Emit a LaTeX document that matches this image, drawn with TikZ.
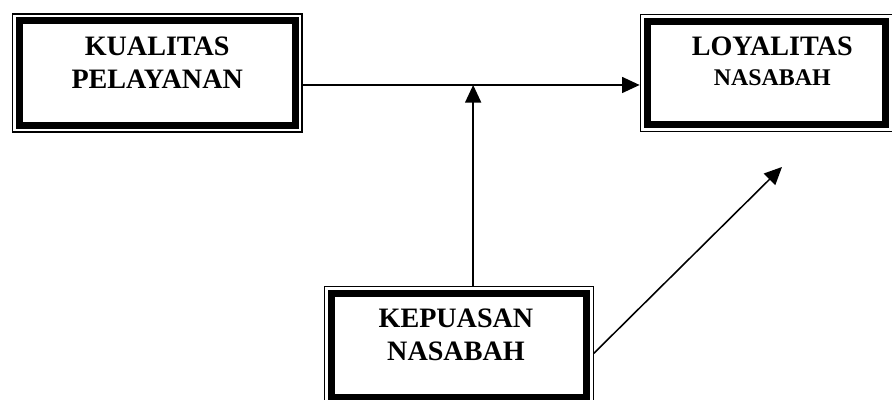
\documentclass[tikz,border=0pt]{standalone}
\usepackage{fontspec}
\setmainfont{Liberation Serif}
\usepackage{tikz}
\usetikzlibrary{
    positioning,
    calc,
    arrows.meta
}
\tikzset{
  frame/.style = {
      draw,
      line width=0.9pt,
      rectangle,
      inner sep=0pt,
      minimum height=2.95cm
  },
  caption/.style = {
      font=\fontsize{20}{23}\selectfont\bfseries,
      align=center,
      inner sep=0pt
  },
  link/.style = {
      line width=1.1pt,
      -{Triangle[length=0.44cm, width=0.4cm]}
  }
}
\begin{document}
\begin{tikzpicture}
    \useasboundingbox (0,0) rectangle (22.3,10);
    % Nodes
    \node[frame, minimum width=7.24cm] (kp) at (3.93,8.175) {};
    \node[frame, minimum width=6.3cm, minimum height=2.925cm, right=8.425cm of kp] (ln) {};
    \node[frame, minimum width=6.725cm, below right=3.825cm and 0.525cm of kp] (kn) {};
    \foreach \b in {kp,ln,kn}
      \draw[line width=5pt] ($(\b.north west)+(0.19,-0.19)$) rectangle ($(\b.south east)+(-0.19,0.19)$);
    % Texts
    \node[caption] (kp-text) at ([yshift=0.26cm]kp.center) {KUALITAS\\PELAYANAN};
    \node[caption] (ln-text) at ([xshift=0.15cm, yshift=0.29cm]ln.center)
      {LOYALITAS\\[-2pt]{\fontsize{17}{20}\selectfont NASABAH}};
    \node[caption] (kn-text) at ([xshift=-0.07cm, yshift=0.26cm]kn.center) {KEPUASAN\\NASABAH};
    % Edges
    \coordinate (hl) at ([yshift=-0.3cm]kp.east);
    \coordinate (vb) at ([xshift=0.36cm]kn.north);
    \coordinate (dg) at (19.55,5.825);
    \draw[link] (hl) -- (hl -| ln.west);
    \draw[link] (vb) -- (vb |- hl);
    \draw[link] ([yshift=-0.2cm]kn.east) -- (dg);
\end{tikzpicture}
\end{document}
